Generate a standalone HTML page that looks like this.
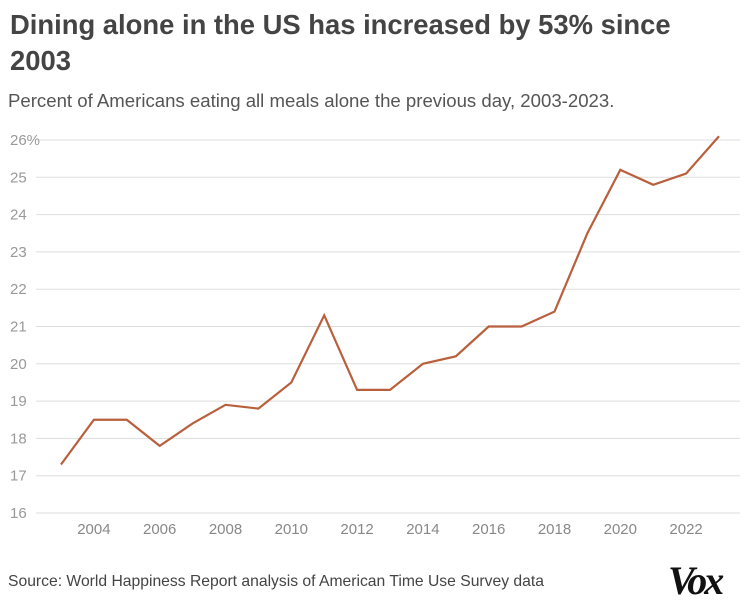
<!DOCTYPE html>
<html><head><meta charset="utf-8"><style>
body{margin:0;width:754px;height:601px;background:#fff;overflow:hidden;font-family:"Liberation Sans",sans-serif;}
svg{position:absolute;left:0;top:0}
</style></head><body>
<svg width="754" height="601">
<text x="10" y="34" font-size="27.4" font-weight="bold" fill="#444">Dining alone in the US has increased by 53% since</text>
<text x="10" y="70" font-size="27.4" font-weight="bold" fill="#444">2003</text>
<text x="8" y="107" font-size="18.6" fill="#555">Percent of Americans eating all meals alone the previous day, 2003-2023.</text>
<g id="grid"></g>
<g id="yt"></g>
<g id="xt"></g>
<path id="line" fill="none" stroke="#b8603d" stroke-width="2.2"/>
<text x="8" y="586" font-size="15.7" fill="#444">Source: World Happiness Report analysis of American Time Use Survey data</text>
<text x="668" y="594" font-size="40" font-weight="bold" font-style="italic" font-family="Liberation Serif,serif" fill="#111" letter-spacing="-3">Vox</text>
</svg>
<script>
const years=[2003,2004,2005,2006,2007,2008,2009,2010,2011,2012,2013,2014,2015,2016,2017,2018,2019,2020,2021,2022,2023];
const values=[17.3,18.5,18.5,17.8,18.4,18.9,18.8,19.5,21.3,19.3,19.3,20.0,20.2,21.0,21.0,21.4,23.5,25.2,24.8,25.1,26.1];
const yTicks=[16,17,18,19,20,21,22,23,24,25,26];
const xTicks=[2004,2006,2008,2010,2012,2014,2016,2018,2020,2022];
const X=v=>61+(v-2003)*(719-61)/20;
const Y=v=>513-(v-16)*(513-140)/10;
const NS="http://www.w3.org/2000/svg";
const grid=document.getElementById('grid'),yt=document.getElementById('yt'),xt=document.getElementById('xt');
yTicks.forEach(t=>{
 const l=document.createElementNS(NS,'line');
 l.setAttribute('x1',36);l.setAttribute('x2',740);l.setAttribute('y1',Y(t));l.setAttribute('y2',Y(t));
 l.setAttribute('stroke','#ddd');l.setAttribute('stroke-width','1');
 
 
 grid.appendChild(l);
 const tx=document.createElementNS(NS,'text');
 tx.setAttribute('x',10);tx.setAttribute('y',Y(t)+5);tx.setAttribute('font-size','15');tx.setAttribute('fill','#999');
 tx.textContent=t===26?'26%':t;
 
 
 yt.appendChild(tx);
});
xTicks.forEach(t=>{
 const tx=document.createElementNS(NS,'text');
 tx.setAttribute('x',X(t));tx.setAttribute('y',534);tx.setAttribute('font-size','15');tx.setAttribute('fill','#888');tx.setAttribute('text-anchor','middle');
 tx.textContent=t;
 
 
 xt.appendChild(tx);
});
document.getElementById('line').setAttribute('d',years.map((y,i)=>(i?'L':'M')+X(y)+','+Y(values[i])).join(''));
</script>
</body></html>
